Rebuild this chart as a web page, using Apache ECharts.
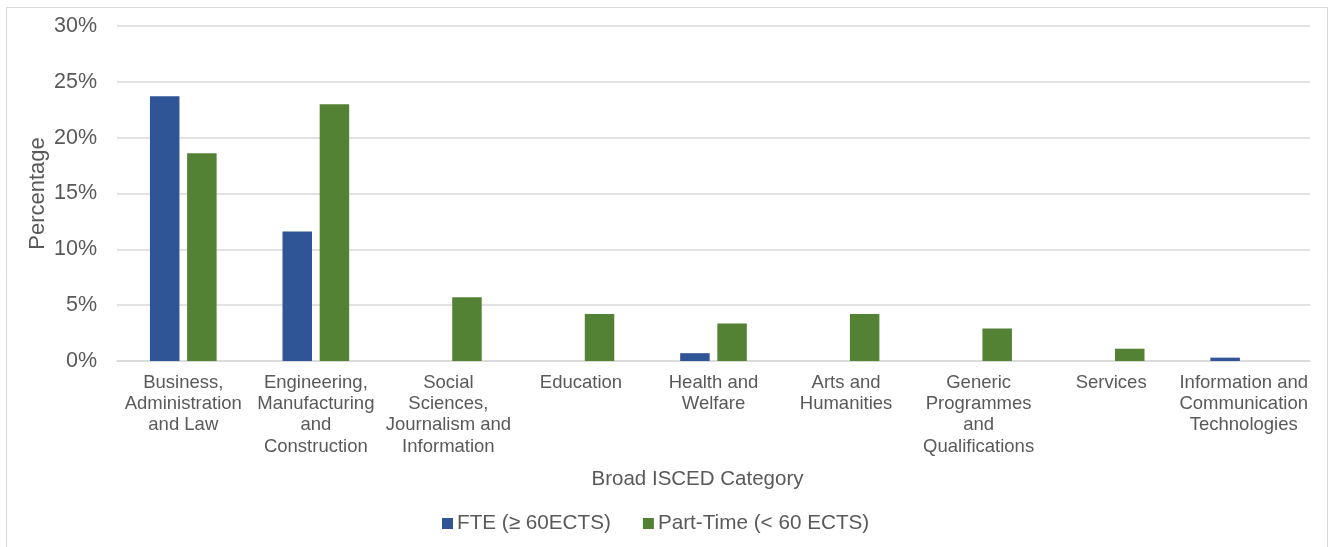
<!DOCTYPE html>
<html>
<head>
<meta charset="utf-8">
<script src="https://cdn.jsdelivr.net/npm/echarts@6/dist/echarts.min.js"></script>
<style>
html,body{margin:0;padding:0;background:#fff;}
#chart{width:1333px;height:547px;}
</style>
</head>
<body>
<div id="chart"></div>
<script>
const categories = [
  "Business,\nAdministration\nand Law",
  "Engineering,\nManufacturing\nand\nConstruction",
  "Social\nSciences,\nJournalism and\nInformation",
  "Education",
  "Health and\nWelfare",
  "Arts and\nHumanities",
  "Generic\nProgrammes\nand\nQualifications",
  "Services",
  "Information and\nCommunication\nTechnologies"
];
const fteValues = [23.7, 11.6, 0, 0, 0.7, 0, 0, 0, 0.3];
const partTimeValues = [18.6, 23.0, 5.7, 4.2, 3.35, 4.2, 2.9, 1.1, 0];
const seriesNames = ["FTE (\u2265 60ECTS)", "Part-Time (< 60 ECTS)"];
const yTicks = { min: 0, max: 30, interval: 5 };

const textColor = '#595959';
const fontFamily = '"Liberation Sans", Arial, sans-serif';

const chart = echarts.init(document.getElementById('chart'), null, {renderer: 'canvas'});
chart.setOption({
  backgroundColor: '#fff',
  animation: false,
  textStyle: { fontFamily: fontFamily, color: textColor },
  graphic: [{
    type: 'rect', silent: true, z: -1,
    shape: { x: 6.5, y: 7.5, width: 1321, height: 600 },
    style: { fill: 'none', stroke: '#d9d9d9', lineWidth: 1 }
  }],
  grid: { left: 117, right: 23, top: 26, bottom: 186, containLabel: false },
  legend: {
    top: 513, left: 442, padding: 0,
    itemWidth: 11, itemHeight: 11, itemGap: 32,
    icon: 'rect',
    textStyle: { fontSize: 20.7, color: textColor, fontFamily: fontFamily, padding: [0, 0, 0, -1] },
    data: seriesNames
  },
  xAxis: {
    type: 'category',
    data: categories,
    name: 'Broad ISCED Category',
    nameLocation: 'middle',
    nameGap: 108,
    nameMoveOverlap: false,
    nameTextStyle: { fontSize: 20.5, color: textColor, fontFamily: fontFamily, padding: [0, 32, 0, 0] },
    axisLine: { lineStyle: { color: '#d9d9d9', width: 1.5 } },
    axisTick: { show: false },
    axisLabel: {
      interval: 0, fontSize: 18.5, lineHeight: 21.3, margin: 11,
      color: textColor, fontFamily: fontFamily
    }
  },
  yAxis: {
    type: 'value',
    min: yTicks.min, max: yTicks.max, interval: yTicks.interval,
    name: 'Percentage',
    nameLocation: 'middle',
    nameGap: 68,
    nameMoveOverlap: false,
    nameRotate: 90,
    nameTextStyle: { fontSize: 22, color: textColor, fontFamily: fontFamily },
    axisLine: { show: false },
    axisTick: { show: false },
    axisLabel: { formatter: '{value}%', fontSize: 21.5, margin: 20, color: textColor, fontFamily: fontFamily },
    splitLine: { lineStyle: { color: '#d9d9d9', width: 1.5 } }
  },
  series: [
    {
      name: seriesNames[0], type: 'bar', data: fteValues,
      barWidth: 29.5, barGap: '26%',
      itemStyle: { color: '#2F5597' }
    },
    {
      name: seriesNames[1], type: 'bar', data: partTimeValues,
      barWidth: 29.5, barGap: '26%',
      itemStyle: { color: '#548235' }
    }
  ]
});
</script>
</body>
</html>
